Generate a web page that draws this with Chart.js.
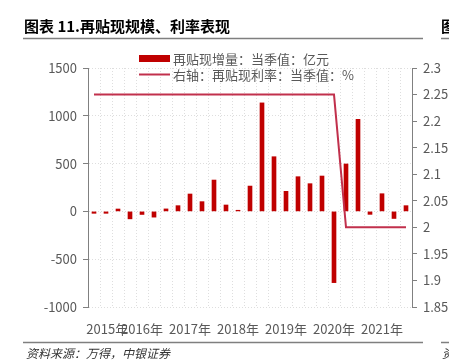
<!DOCTYPE html>
<html lang="zh">
<head>
    <meta charset="UTF-8">
    <title>再贴现规模、利率表现</title>
    <script src="https://cdn.jsdelivr.net/npm/chart.js"></script>
    <style>
        body {
            margin: 0;
            padding: 0;
            background-color: #fff;
        }
        .chart-box {
            width: 449px;
            height: 361px;
        }
    </style>
</head>
<body>
<div class="chart-box">
    <canvas id="rediscountChart" width="449" height="361"></canvas>
</div>
<script>
    // 季度（2015Q1 - 2021Q3）
    const quarters = [
        '2015Q1', '2015Q2', '2015Q3', '2015Q4',
        '2016Q1', '2016Q2', '2016Q3', '2016Q4',
        '2017Q1', '2017Q2', '2017Q3', '2017Q4',
        '2018Q1', '2018Q2', '2018Q3', '2018Q4',
        '2019Q1', '2019Q2', '2019Q3', '2019Q4',
        '2020Q1', '2020Q2', '2020Q3', '2020Q4',
        '2021Q1', '2021Q2', '2021Q3'
    ];
    // 再贴现增量：当季值（亿元）
    const increments = [
        -20, -20, 25, -78, -32, -60, 26, 60,
        182, 102, 328, 67, 12, 265, 1135, 572,
        210, 363, 290, 370, -745, 496, 963, -31,
        185, -74, 60
    ];
    // 再贴现利率：当季值（%）
    const rates = [
        2.25, 2.25, 2.25, 2.25, 2.25, 2.25, 2.25, 2.25,
        2.25, 2.25, 2.25, 2.25, 2.25, 2.25, 2.25, 2.25,
        2.25, 2.25, 2.25, 2.25, 2.25, 2.0, 2.0, 2.0,
        2.0, 2.0, 2.0
    ];
    // 横轴年份标签及其位置（按季度序号）
    const yearLabels = ['2015年', '2016年', '2017年', '2018年', '2019年', '2020年', '2021年'];
    const yearPos = [1.1, 4, 8, 12, 16, 20, 24];

    const barColor = '#c00000';
    const lineColor = '#c1304c';
    const gridColor = '#dedede';
    const axisColor = '#808080';
    const textColor = '#595959';
    const fontFamily = '"Noto Sans CJK SC", "Noto Sans", sans-serif';

    // 标题、图例、资料来源
    const decorPlugin = {
        id: 'decor',
        beforeDraw: (chart) => {
            const ctx = chart.ctx;
            ctx.save();
            ctx.fillStyle = '#fff';
            ctx.fillRect(0, 0, chart.width, chart.height);
            ctx.restore();
        },
        afterDraw: (chart) => {
            const ctx = chart.ctx;
            ctx.save();

            // 标题
            ctx.fillStyle = '#000';
            ctx.textBaseline = 'middle';
            ctx.font = 'bold 15px ' + fontFamily;
            ctx.fillText('图表 11.再贴现规模、利率表现', 24, 26);
            ctx.fillText('图', 441, 26);

            // 分隔线
            ctx.strokeStyle = '#7f7f7f';
            ctx.lineWidth = 1.5;
            ctx.beginPath();
            ctx.moveTo(23, 38.5);
            ctx.lineTo(423, 38.5);
            ctx.moveTo(441, 38.5);
            ctx.lineTo(449, 38.5);
            ctx.moveTo(23, 342.5);
            ctx.lineTo(423, 342.5);
            ctx.moveTo(441, 342.5);
            ctx.lineTo(449, 342.5);
            ctx.stroke();

            // 资料来源
            ctx.fillStyle = '#333';
            ctx.font = 'italic 12px ' + fontFamily;
            ctx.fillText('资料来源：万得，中银证券', 26, 353);
            ctx.fillText('资', 442, 353);

            // 图例
            ctx.font = '13px ' + fontFamily;
            ctx.fillStyle = barColor;
            ctx.fillRect(139, 55, 31, 7);
            ctx.strokeStyle = lineColor;
            ctx.lineWidth = 2;
            ctx.beginPath();
            ctx.moveTo(139, 74.5);
            ctx.lineTo(170, 74.5);
            ctx.stroke();
            ctx.fillStyle = textColor;
            ctx.fillText('再贴现增量：当季值：亿元', 173, 59);
            ctx.fillText('右轴：再贴现利率：当季值：%', 173, 75);

            ctx.restore();
        }
    };

    const ctx = document.getElementById('rediscountChart').getContext('2d');
    const rediscountChart = new Chart(ctx, {
        data: {
            labels: quarters,
            datasets: [
                {
                    type: 'line',
                    label: '右轴：再贴现利率：当季值：%',
                    data: rates,
                    yAxisID: 'y1',
                    xAxisID: 'x',
                    borderColor: lineColor,
                    borderWidth: 2,
                    pointRadius: 0,
                    tension: 0,
                    order: 1
                },
                {
                    type: 'bar',
                    label: '再贴现增量：当季值：亿元',
                    data: increments,
                    yAxisID: 'y',
                    xAxisID: 'x',
                    backgroundColor: barColor,
                    barThickness: 4,
                    order: 2
                }
            ]
        },
        options: {
            responsive: false,
            animation: false,
            devicePixelRatio: 1,
            layout: {
                padding: { top: 68, left: 0, right: 0, bottom: 0 }
            },
            plugins: {
                legend: { display: false },
                tooltip: { enabled: false },
                title: { display: false }
            },
            scales: {
                x: {
                    type: 'category',
                    position: 'bottom',
                    offset: true,
                    grid: {
                        offset: true,
                        color: gridColor,
                        drawTicks: false
                    },
                    border: { display: false, dash: [1, 2] },
                    ticks: { display: false },
                    afterFit: (scale) => { scale.height = 0; }
                },
                xl: {
                    type: 'linear',
                    position: 'bottom',
                    min: -0.5,
                    max: 26.5,
                    grid: { display: false, drawTicks: false },
                    border: { display: false },
                    afterBuildTicks: (scale) => {
                        scale.ticks = yearPos.map(v => ({ value: v }));
                    },
                    ticks: {
                        autoSkip: false,
                        maxRotation: 0,
                        padding: 14,
                        color: textColor,
                        font: { family: fontFamily, size: 13 },
                        callback: (value, index) => yearLabels[index]
                    },
                    afterFit: (scale) => { scale.height = 54; }
                },
                y: {
                    type: 'linear',
                    position: 'left',
                    min: -1000,
                    max: 1500,
                    ticks: {
                        stepSize: 500,
                        padding: 6,
                        color: textColor,
                        font: { family: fontFamily, size: 13 },
                        callback: (value) => String(value)
                    },
                    grid: {
                        color: gridColor,
                        tickColor: axisColor,
                        tickLength: 5
                    },
                    border: { color: axisColor, width: 1, dash: [1, 2] },
                    afterFit: (scale) => { scale.width = 88; }
                },
                y1: {
                    type: 'linear',
                    position: 'right',
                    min: 1.85,
                    max: 2.3,
                    ticks: {
                        stepSize: 0.05,
                        padding: 6,
                        color: textColor,
                        font: { family: fontFamily, size: 13 },
                        callback: (value) => String(Number(value.toFixed(2)))
                    },
                    grid: {
                        drawOnChartArea: false,
                        tickColor: axisColor,
                        tickLength: 5
                    },
                    border: { color: axisColor, width: 1 },
                    afterFit: (scale) => { scale.width = 37; }
                }
            }
        },
        plugins: [decorPlugin]
    });
</script>
</body>
</html>
